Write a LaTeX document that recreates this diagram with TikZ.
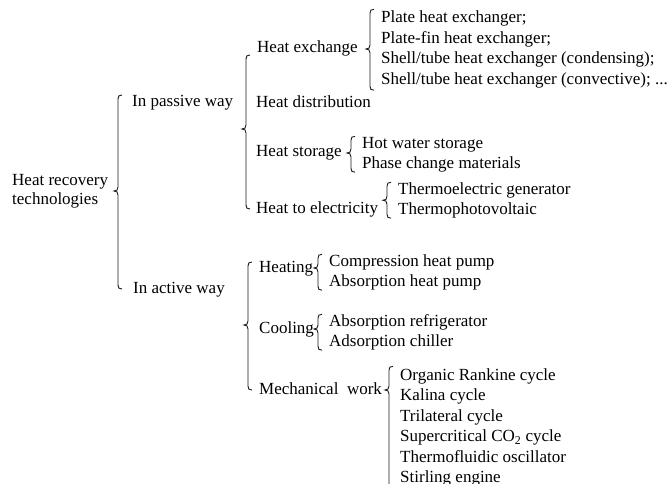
\documentclass[tikz,border=0pt]{standalone}
\usepackage{fontspec}
\setmainfont{Liberation Serif}
\usetikzlibrary{positioning,calc}

% curly bracket: top end, cusp height, bottom end
\newcommand\grpbrace[3]{%
  \draw[brc] let \p1=#1, \p2=#2, \p3=#3, \n1={\x1-11pt} in
    (\n1+4pt,\y1) .. controls (\n1+1pt,\y1) and (\n1,\y1-1pt) .. (\n1,\y1-4pt)
    -- (\n1,\y2+4pt) .. controls (\n1,\y2+1pt) and (\n1-1.5pt,\y2) .. (\n1-4pt,\y2)
    .. controls (\n1-1.5pt,\y2) and (\n1,\y2-1pt) .. (\n1,\y2-4pt)
    -- (\n1,\y3+4pt) .. controls (\n1,\y3+1pt) and (\n1+1pt,\y3) .. (\n1+4pt,\y3);
}

\begin{document}
\begin{tikzpicture}[x=1pt, y=-1pt, node distance=20.5pt,
    every node/.style={font=\fontsize{17}{19}\selectfont},
    txt/.style={inner sep=0pt, anchor=west, text height=11.5pt, text depth=3.5pt},
    lineafter/.style={txt, below=of #1.west, anchor=west},
    brc/.style={line width=0.9pt, black!90}]
  \useasboundingbox (0,0) rectangle (669,484);

  \node[inner sep=0pt, anchor=west, align=left] (hrt) at (12,191) {Heat recovery\\technologies};

  \node[txt] (passive) at (132,103) {In passive way};
  \node[txt] (active) at (133,289) {In active way};

  \node[txt] (hx) at (257,49) {Heat exchange};
  \node[txt] (hd) at (256,104) {Heat distribution};
  \node[txt] (hs) at (256,153) {Heat storage};
  \node[txt] (he) at (256,209) {Heat to electricity};
  \node[txt] (heat) at (259,268) {Heating};
  \node[txt] (cool) at (259,329) {Cooling};
  \node[txt] (mech) at (259,390) {Mechanical\ \ work};

  \node[txt] (hx1) at (381,19) {Plate heat exchanger;};
  \node[lineafter=hx1] (hx2) {Plate-fin heat exchanger;};
  \node[lineafter=hx2] (hx3) {Shell/tube heat exchanger (condensing);};
  \node[lineafter=hx3] (hx4) {Shell/tube heat exchanger (convective); ...};

  \node[txt] (hs1) at (362,144) {Hot water storage};
  \node[lineafter=hs1] (hs2) {Phase change materials};

  \node[txt] (he1) at (398,190) {Thermoelectric generator};
  \node[lineafter=he1] (he2) {Thermophotovoltaic};

  \node[txt] (heat1) at (329,262) {Compression heat pump};
  \node[lineafter=heat1] (heat2) {Absorption heat pump};

  \node[txt] (cool1) at (329,322) {Absorption refrigerator};
  \node[lineafter=cool1] (cool2) {Adsorption chiller};

  \node[txt] (mech1) at (400,376) {Organic Rankine cycle};
  \node[lineafter=mech1] (mech2) {Kalina cycle};
  \node[lineafter=mech2] (mech3) {Trilateral cycle};
  \node[lineafter=mech3] (mech4) {Supercritical CO\textsubscript{2} cycle};
  \node[lineafter=mech4] (mech5) {Thermofluidic oscillator};
  \node[lineafter=mech5] (mech6) {Stirling engine};

  % brackets
  \grpbrace{([xshift=-3pt,yshift=8pt]passive.west)}{(hrt.east)}{(active.west)}
  \grpbrace{([yshift=-6pt]hx.west)}{($(hx.west)!.5!(he.west)$)}{(he.west)}
  \grpbrace{([yshift=6pt]heat.west)}{([yshift=4pt]cool.west)}{(mech.west)}
  \grpbrace{([yshift=2pt]hx1.north west)}{(hx.east)}{([yshift=-2pt]hx4.south west)}
  \grpbrace{(hs1.north west)}{(hs.east)}{(hs2.south west)}
  \grpbrace{(he1.north west)}{($(he1.west)!.5!(he2.west)$)}{(he2.south west)}
  \grpbrace{(heat1.north west)}{(heat.east)}{(heat2.south west)}
  \grpbrace{(cool1.north west)}{(cool.east)}{(cool2.south west)}
  \grpbrace{([yshift=2pt]mech1.north west)}{(mech.east)}{([yshift=-12pt]mech6.south west)}
\end{tikzpicture}
\end{document}
